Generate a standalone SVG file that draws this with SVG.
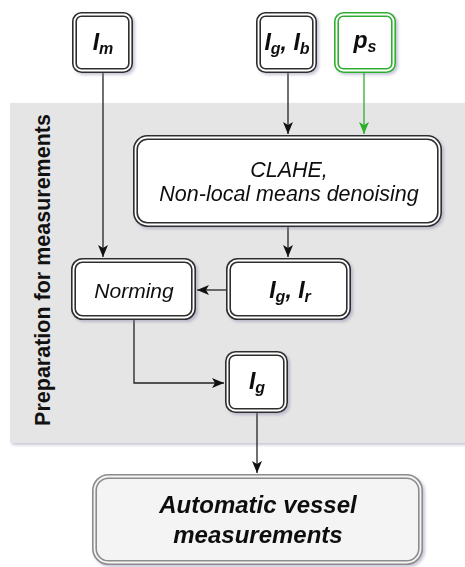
<svg xmlns="http://www.w3.org/2000/svg" width="465" height="567" viewBox="0 0 465 567">
<style>
  .frame{fill:#ffffff;stroke:#2e2e2e;stroke-width:5}
  .gap{fill:none;stroke:#ffffff;stroke-width:1.8}
  .green .frame{stroke:#2fae2f}
  .final .frame{fill:#f4f4f4;stroke:#8c8c8c}
  .final .gap{stroke:#f4f4f4}
  .lbl{font-family:"Liberation Sans",Arial,sans-serif;font-style:italic;fill:#111;text-anchor:middle}
  .var{font-size:23px;font-weight:bold}
  .sub{font-size:16px}
  .plain{font-size:21.5px}
  .nm{font-size:21px}
  .big{font-size:24px;font-weight:bold}
  .side{font-family:"Liberation Sans",Arial,sans-serif;font-weight:bold;font-size:21.5px;fill:#111;text-anchor:middle}
  .conn path{fill:none;stroke:#222;stroke-width:1.3}
  .conn path.g{stroke:#2fae2f}
</style>
<defs>
  <filter id="sh" x="-20%" y="-20%" width="140%" height="140%">
    <feDropShadow dx="2" dy="2" stdDeviation="1.5" flood-color="#8080a8" flood-opacity="0.45"/>
  </filter>
  <marker id="ah" markerUnits="userSpaceOnUse" markerWidth="13" markerHeight="13" viewBox="0 0 13 13" refX="12" refY="6.5" orient="auto">
    <path d="M0,1.5 L12,6.5 L0,11.5 L3,6.5 Z" fill="#111"/>
  </marker>
  <marker id="ahg" markerUnits="userSpaceOnUse" markerWidth="13" markerHeight="13" viewBox="0 0 13 13" refX="12" refY="6.5" orient="auto">
    <path d="M0,1.5 L12,6.5 L0,11.5 L3,6.5 Z" fill="#2fae2f"/>
  </marker>
</defs>
<rect width="465" height="567" fill="#ffffff"/>
<g id="panel">
  <rect x="10" y="103" width="460" height="340" fill="#e5e5e5" filter="url(#sh)"/>
  <text class="side" transform="translate(50,270) rotate(-90)">Preparation for measurements</text>
</g>
<g class="conn" id="connectors">
  <path d="M103,73 V257" marker-end="url(#ah)"/>
  <path d="M288,73 V134" marker-end="url(#ah)"/>
  <path class="g" d="M364,73 V134" marker-end="url(#ahg)"/>
  <path d="M288,227 V257" marker-end="url(#ah)"/>
  <path d="M226,290 H197" marker-end="url(#ah)"/>
  <path d="M134,320 V383 H224" marker-end="url(#ah)"/>
  <path d="M257,413 V473" marker-end="url(#ah)"/>
</g>
<g id="n-im" filter="url(#sh)">
  <rect class="frame" x="74.5" y="14.5" width="56" height="56" rx="7"/>
  <rect class="gap" x="74.5" y="14.5" width="56" height="56" rx="7"/>
  <text class="lbl var" x="103" y="50">I<tspan class="sub" dy="4">m</tspan></text>
</g>
<g id="n-igib" filter="url(#sh)">
  <rect class="frame" x="258.5" y="14.5" width="56" height="56" rx="7"/>
  <rect class="gap" x="258.5" y="14.5" width="56" height="56" rx="7"/>
  <text class="lbl var" x="287" y="50">I<tspan class="sub" dy="4">g</tspan><tspan dy="-4">, I</tspan><tspan class="sub" dy="4">b</tspan></text>
</g>
<g id="n-ps" class="green" filter="url(#sh)">
  <rect class="frame" x="336.5" y="14.5" width="57" height="56" rx="7"/>
  <rect class="gap" x="336.5" y="14.5" width="57" height="56" rx="7"/>
  <text class="lbl var" x="365" y="48">p<tspan class="sub" dy="4">s</tspan></text>
</g>
<g id="n-clahe" filter="url(#sh)">
  <rect class="frame" x="135.5" y="137.5" width="304" height="87" rx="12"/>
  <rect class="gap" x="135.5" y="137.5" width="304" height="87" rx="12"/>
  <text class="lbl plain" x="289" y="177">CLAHE,</text>
  <text class="lbl plain" x="289" y="201">Non-local means denoising</text>
</g>
<g id="n-norming" filter="url(#sh)">
  <rect class="frame" x="73.5" y="260.5" width="120" height="57" rx="9"/>
  <rect class="gap" x="73.5" y="260.5" width="120" height="57" rx="9"/>
  <text class="lbl nm" x="134" y="298">Norming</text>
</g>
<g id="n-igir" filter="url(#sh)">
  <rect class="frame" x="228.5" y="260.5" width="120" height="57" rx="9"/>
  <rect class="gap" x="228.5" y="260.5" width="120" height="57" rx="9"/>
  <text class="lbl var" x="290" y="298">I<tspan class="sub" dy="4">g</tspan><tspan dy="-4">, I</tspan><tspan class="sub" dy="4">r</tspan></text>
</g>
<g id="n-ig" filter="url(#sh)">
  <rect class="frame" x="227.5" y="353.5" width="58" height="57" rx="8"/>
  <rect class="gap" x="227.5" y="353.5" width="58" height="57" rx="8"/>
  <text class="lbl var" x="257" y="389">I<tspan class="sub" dy="4">g</tspan></text>
</g>
<g id="n-final" class="final" filter="url(#sh)">
  <rect class="frame" x="94.5" y="476.5" width="326" height="86" rx="14"/>
  <rect class="gap" x="94.5" y="476.5" width="326" height="86" rx="14"/>
  <text class="lbl big" x="258" y="513">Automatic vessel</text>
  <text class="lbl big" x="258" y="543">measurements</text>
</g>
</svg>
